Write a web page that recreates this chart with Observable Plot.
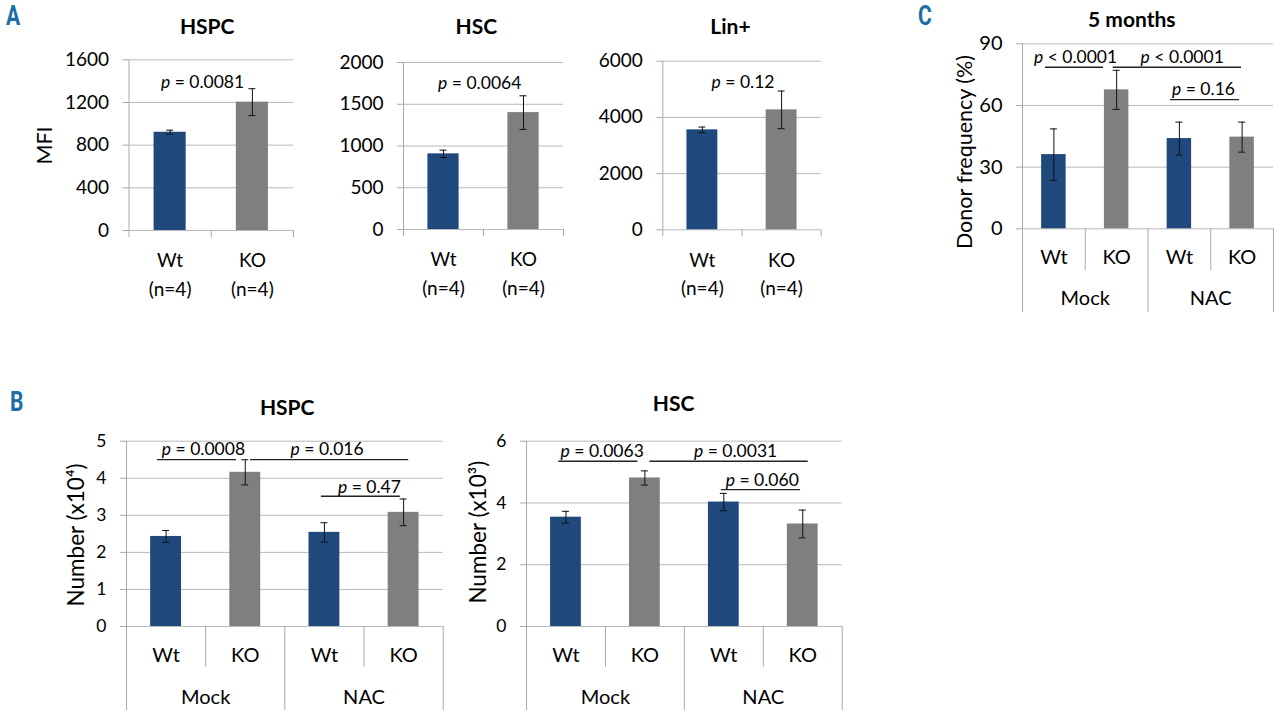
<!DOCTYPE html>
<html><head><meta charset="utf-8">
<script src="https://cdn.jsdelivr.net/npm/d3@7"></script>
<script src="https://cdn.jsdelivr.net/npm/@observablehq/plot@0.6"></script>
<style>
html,body{margin:0;padding:0;background:#fff;}
#fig{position:relative;width:1280px;height:724px;overflow:hidden;font-family:Lato,sans-serif;}
#fig svg{position:absolute;overflow:visible;max-width:none;}
.panel{position:absolute;font:bold 27px Roboto,sans-serif;color:#1c6ea4;transform-origin:left top;transform:scaleX(0.78);line-height:27px;}
</style></head><body><div id="fig"></div>
<script>
// ---------- data ----------
const genotypes = ["Wt", "KO"];
const sampleSizes = ["(n=4)", "(n=4)"];
const treatments = ["Mock", "NAC"];

// Panel A: MFI (Wt, KO)
const mfiHSPC = [921, 1203];
const mfiHSPCErr = [19, 126];
const mfiHSC = [906, 1400];
const mfiHSCErr = [44, 201];
const mfiLin = [3557, 4268];
const mfiLinErr = [100, 670];
const ticksMfiHSPC = [0, 400, 800, 1200, 1600];
const ticksMfiHSC = [0, 500, 1000, 1500, 2000];
const ticksMfiLin = [0, 2000, 4000, 6000];

// Panel B: numbers (Mock Wt, Mock KO, NAC Wt, NAC KO)
const numHSPC = [2.43, 4.16, 2.54, 3.08];
const numHSPCErr = [0.16, 0.34, 0.26, 0.36];
const numHSC = [3.54, 4.81, 4.03, 3.32];
const numHSCErr = [0.19, 0.23, 0.28, 0.45];
const ticksNumHSPC = [0, 1, 2, 3, 4, 5];
const ticksNumHSC = [0, 2, 4, 6];

// Panel C: donor frequency (%)
const donorFreq = [36.1, 67.6, 43.9, 44.6];
const donorFreqErr = [12.5, 9.5, 8.0, 7.3];
const ticksDonor = [0, 30, 60, 90];

// p-value labels
const pA_HSPC = ["p = 0.0081"];
const pA_HSC = ["p = 0.0064"];
const pA_Lin = ["p = 0.12"];
const pB_HSPC = ["p = 0.0008", "p = 0.016", "p = 0.47"];
const pB_HSC = ["p = 0.0063", "p = 0.0031", "p = 0.060"];
const pC = ["p < 0.0001", "p < 0.0001", "p = 0.16"];

// ---------- style ----------
const BLUE = "#1f487c", GREY = "#7f7f7f", GRID = "#b8b8b8", AXIS = "#a9a9a9";
const fig = document.getElementById("fig");

function chart(cfg) {
  const [ax, rx, ty, zy] = cfg.frame;
  const [sx, sy, sw, sh] = cfg.box;
  const n = cfg.values.length;
  const ymax = d3.max(cfg.ticks);
  const rows = cfg.values.map((v, i) => ({i, v, e: cfg.errors[i], g: genotypes[i % genotypes.length], c: i + 0.5}));
  const bounds = d3.range(n + 1);
  const grouped = !!cfg.groups;
  const isOuter = b => !grouped || b % genotypes.length === 0;
  const outerLen = grouped ? cfg.outerLen : 7;
  const at = (px, py) => ({frameAnchor: "top-left", dx: px - ax, dy: py - ty});
  const notes = cfg.pLabels.map((label, k) => ({label, ...cfg.notePos[k]}));
  const marks = [
    Plot.ruleY(cfg.ticks, {stroke: GRID}),
    Plot.axisY({ticks: cfg.ticks, tickSize: 6, tickPadding: 14, fontSize: cfg.tickFont, tickFormat: d => String(d), stroke: AXIS, label: null}),
    Plot.ruleX(bounds.filter(isOuter), {x: d => d, y1: d => d === 0 ? ymax : 0, y2: () => 0, insetBottom: -outerLen, stroke: AXIS}),
    grouped ? Plot.ruleX(bounds.filter(b => !isOuter(b)), {x: d => d, y1: () => 0, y2: () => 0, insetBottom: -cfg.innerLen, stroke: AXIS}) : null,
    Plot.rect(rows, {x1: d => d.c - 0.195, x2: d => d.c + 0.195, y1: () => 0, y2: "v", fill: "g"}),
    Plot.ruleX(rows, {x: "c", y1: d => d.v - d.e, y2: d => d.v + d.e, stroke: "#111"}),
    Plot.ruleY(rows, {x1: "c", x2: "c", y: d => d.v + d.e, insetLeft: -3.5, insetRight: -3.5, stroke: "#111"}),
    Plot.ruleY(rows, {x1: "c", x2: "c", y: d => d.v - d.e, insetLeft: -3.5, insetRight: -3.5, stroke: "#111"}),
    cfg.brackets ? Plot.ruleY(cfg.brackets, {x1: "x1", x2: "x2", y: "y", stroke: "#222", strokeWidth: 1.3}) : null,
    Plot.text(notes, {x: "x", y: "y", text: "label", fontSize: 17.5}),
    Plot.text(rows, {x: "c", y: () => 0, text: d => cfg.sample ? `${d.g}\n${sampleSizes[d.i]}` : d.g,
      dy: cfg.catDy, lineHeight: cfg.lineHeight || 1, fontSize: cfg.catFont}),
    grouped ? Plot.text(cfg.groups, {x: (d, i) => i * genotypes.length + genotypes.length / 2, y: () => 0, text: d => d, dy: cfg.groupDy, fontSize: cfg.catFont}) : null,
    Plot.text([cfg.title], {text: d => d, ...at(...cfg.titlePos), textAnchor: "middle", lineAnchor: "middle", fontWeight: "bold", fontSize: 21}),
    cfg.ylabel ? Plot.text([cfg.ylabel], {text: d => d, ...at(...cfg.ylabelPos), textAnchor: "middle", lineAnchor: "middle", rotate: -90, fontSize: cfg.ylabelFont}) : null
  ].filter(Boolean);
  const svg = Plot.plot({
    width: sw, height: sh,
    marginLeft: ax - sx, marginRight: sx + sw - rx, marginTop: ty - sy, marginBottom: sy + sh - zy,
    x: {type: "linear", domain: [0, n], axis: null},
    y: {type: "linear", domain: [0, ymax]},
    color: {domain: genotypes, range: [BLUE, GREY]},
    style: {fontFamily: "Lato, sans-serif", color: "#000", background: "transparent", overflow: "visible"},
    marks
  });
  svg.style.left = sx + "px";
  svg.style.top = sy + "px";
  d3.select(svg).selectAll("text").each(function () {
    const t = this.textContent;
    const m = /^p ([<=].*)$/.exec(t);
    if (m && this.children.length === 0) {
      this.textContent = "";
      d3.select(this).append("tspan").attr("font-style", "italic").text("p");
      d3.select(this).append("tspan").text(" " + m[1]);
    }
  });
  fig.appendChild(svg);
}

// Panel A
const aCommon = {tickFont: 19, catFont: 19, sample: true, catDy: 42, lineHeight: 1.5};
chart({frame: [128.5, 293, 59.3, 230], box: [25, 0, 280, 310], values: mfiHSPC, errors: mfiHSPCErr, ticks: ticksMfiHSPC,
  title: "HSPC", titlePos: [206.7, 27], ylabel: "MFI", ylabelPos: [45, 145], ylabelFont: 21.5,
  pLabels: pA_HSPC, notePos: [{x: 0.894, y: 1392}], ...aCommon});
chart({frame: [403, 563, 62, 229], box: [330, 0, 245, 310], values: mfiHSC, errors: mfiHSCErr, ticks: ticksMfiHSC,
  title: "HSC", titlePos: [475.8, 27],
  pLabels: pA_HSC, notePos: [{x: 0.953, y: 1754}], ...aCommon});
chart({frame: [662.3, 820.7, 60.7, 229.3], box: [590, 0, 240, 310], values: mfiLin, errors: mfiLinErr, ticks: ticksMfiLin,
  title: "Lin+", titlePos: [730, 27],
  pLabels: pA_Lin, notePos: [{x: 1.013, y: 5232}], ...aCommon});

// Panel C
chart({frame: [1022, 1273, 43.3, 228.3], box: [945, 0, 335, 320], values: donorFreq, errors: donorFreqErr, ticks: ticksDonor,
  title: "5 months", titlePos: [1131.3, 19.3], ylabel: "Donor frequency (%)", ylabelPos: [965, 151.5], ylabelFont: 21.5,
  pLabels: pC, notePos: [{x: 0.845, y: 83.3}, {x: 2.545, y: 83.3}, {x: 2.884, y: 67.7}],
  brackets: [{x1: 0.367, x2: 1.291, y: 78.6}, {x1: 1.445, x2: 3.49, y: 78.6}, {x1: 2.359, x2: 3.458, y: 62.8}],
  tickFont: 20, catFont: 20, groups: treatments, catDy: 29, groupDy: 70, innerLen: 41.7, outerLen: 83.4});

// Panel B
chart({frame: [126, 442.7, 440.7, 626], box: [40, 385, 410, 339], values: numHSPC, errors: numHSPCErr, ticks: ticksNumHSPC,
  title: "HSPC", titlePos: [286.7, 407.5], ylabel: "Number (x10⁴)", ylabelPos: [76.7, 534.5], ylabelFont: 22.5,
  pLabels: pB_HSPC, notePos: [{x: 0.972, y: 4.775}, {x: 2.534, y: 4.775}, {x: 3.068, y: 3.758}],
  brackets: [{x1: 0.391, x2: 1.389, y: 4.505}, {x1: 1.566, x2: 3.564, y: 4.505}, {x1: 2.462, x2: 3.46, y: 3.515}],
  tickFont: 17.5, catFont: 20, groups: treatments, catDy: 29, groupDy: 70.7, innerLen: 40.7, outerLen: 84});
chart({frame: [526, 841.7, 440.7, 626], box: [455, 385, 395, 339], values: numHSC, errors: numHSCErr, ticks: ticksNumHSC,
  title: "HSC", titlePos: [673, 404], ylabel: "Number (x10³)", ylabelPos: [478, 531.7], ylabelFont: 22.5,
  pLabels: pB_HSC, notePos: [{x: 0.959, y: 5.673}, {x: 2.649, y: 5.673}, {x: 2.987, y: 4.747}],
  brackets: [{x1: 0.409, x2: 1.411, y: 5.35}, {x1: 1.563, x2: 3.57, y: 5.35}, {x1: 2.468, x2: 3.473, y: 4.434}],
  tickFont: 17.5, catFont: 20, groups: treatments, catDy: 29, groupDy: 70.7, innerLen: 40.7, outerLen: 84});

// panel letters
[["A", 6, 25.5], ["B", 10, 411.5], ["C", 918, 25.5]].forEach(([t, x, b]) => {
  const d = document.createElement("div");
  d.className = "panel"; d.textContent = t;
  d.style.left = x + "px"; d.style.top = (b - 22.7) + "px";
  fig.appendChild(d);
});
</script></body></html>
